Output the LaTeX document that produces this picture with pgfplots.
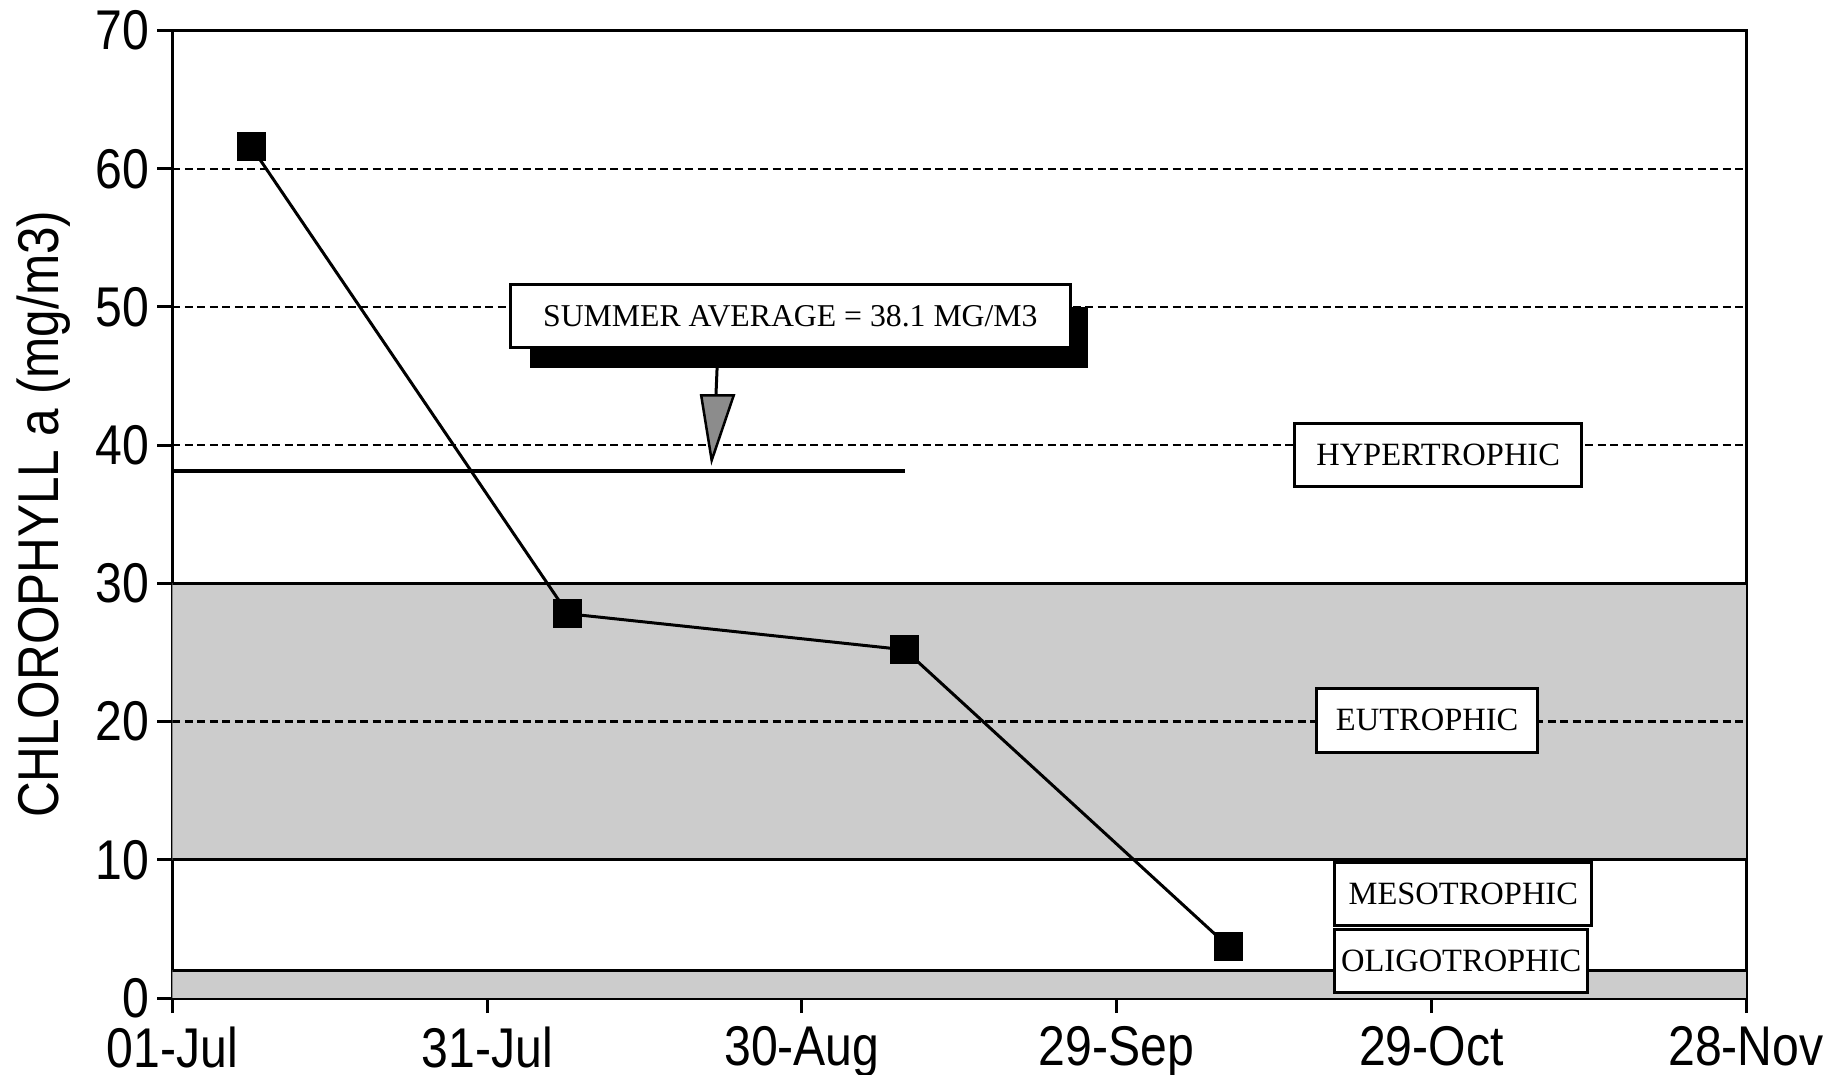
\documentclass[border=0pt]{standalone}
\usepackage{fontspec}
\setmainfont{Liberation Serif}
\newfontfamily\narrowsans[FakeStretch=0.86]{Liberation Sans}
\usepackage{pgfplots}
\pgfplotsset{compat=1.18}
\begin{document}
\begin{tikzpicture}
\begin{axis}[
  scale only axis, width=314.7pt, height=193.5pt,
  xmin=0, xmax=150, ymin=0, ymax=70,
  xtick={0,30,...,150},
  xticklabels={01-Jul,31-Jul,30-Aug,29-Sep,29-Oct,28-Nov},
  ytick={0,10,...,70},
  tick pos=left, tick align=outside, major tick length=3pt,
  axis line style={line width=0.6pt},
  every tick/.style={black, line width=0.6pt},
  /pgf/number format/assume math mode=true,
  tick label style={font=\narrowsans\fontsize{11.2}{12}\selectfont, inner sep=0pt},
  x tick label style={yshift=-2.5pt},
  y tick label style={xshift=-1.4pt},
  ylabel={CHLOROPHYLL a (mg/m3)},
  ylabel style={font=\narrowsans\fontsize{11.5}{12}\selectfont, at={(axis description cs:-0.082,0.5)}, anchor=center},
]
% trophic bands
\fill[black!20] (axis cs:0,10) rectangle (axis cs:150,30);
\fill[black!20] (axis cs:0,0) rectangle (axis cs:150,2);
% dashed grid
\foreach \yy in {20,40,50,60} {
  \edef\tmp{\noexpand\draw[line width=0.45pt, dash pattern=on 1.6pt off 0.9pt] (axis cs:0,\yy) -- (axis cs:150,\yy);}
  \tmp
}
% solid boundaries
\addplot[line width=0.6pt, black] coordinates {(0,30) (150,30)};
\addplot[line width=0.6pt, black] coordinates {(0,10) (150,10)};
\addplot[line width=0.6pt, black] coordinates {(0,2) (150,2)};
% summer average
\addplot[line width=0.8pt, black] coordinates {(0,38.1) (69.8,38.1)};
% data
\addplot[line width=0.6pt, black, mark=square*, mark size=2.6pt, mark options={solid, fill=black}]
  coordinates {(7.5,61.6) (37.7,27.8) (69.8,25.2) (100.7,3.7)};
% class boxes
\draw[line width=0.6pt, fill=white] (axis cs:107.0,37.0) rectangle (axis cs:134.3,41.6);
\node[font=\fontsize{6.5}{7}\selectfont] at (axis cs:120.65,39.3) {HYPERTROPHIC};
\draw[line width=0.6pt, fill=white] (axis cs:109.1,17.8) rectangle (axis cs:130.1,22.4);
\node[font=\fontsize{6.5}{7}\selectfont] at (axis cs:119.6,20.1) {EUTROPHIC};
\draw[line width=0.6pt, fill=white] (axis cs:110.8,5.27) rectangle (axis cs:135.3,9.77);
\node[font=\fontsize{6.5}{7}\selectfont] at (axis cs:123.05,7.5) {MESOTROPHIC};
\draw[line width=0.6pt, fill=white] (axis cs:110.8,0.42) rectangle (axis cs:134.9,4.93);
\node[font=\fontsize{6.5}{7}\selectfont] at (axis cs:122.85,2.7) {OLIGOTROPHIC};
% summer average callout
\fill[black] (axis cs:34.1,45.6) rectangle (axis cs:87.3,50.0);
\draw[line width=0.6pt, fill=white] (axis cs:32.2,47.1) rectangle (axis cs:85.6,51.6);
\node[font=\fontsize{6.35}{7}\selectfont] at (axis cs:58.9,49.35) {SUMMER AVERAGE = 38.1 MG/M3};
\draw[line width=0.6pt] (axis cs:52.0,47.1) -- (axis cs:51.8,43.5);
\draw[line width=0.5pt, fill=black!45] (axis cs:50.4,43.6) -- (axis cs:53.5,43.6) -- (axis cs:51.4,38.9) -- cycle;
\end{axis}
\pgfresetboundingbox
\path (current axis.south west) ++(-34.5pt,-15.2pt) coordinate (bbA);
\path (current axis.north east) ++(19pt,6.1pt) coordinate (bbB);
\useasboundingbox (bbA) rectangle (bbB);
\end{tikzpicture}
\end{document}
